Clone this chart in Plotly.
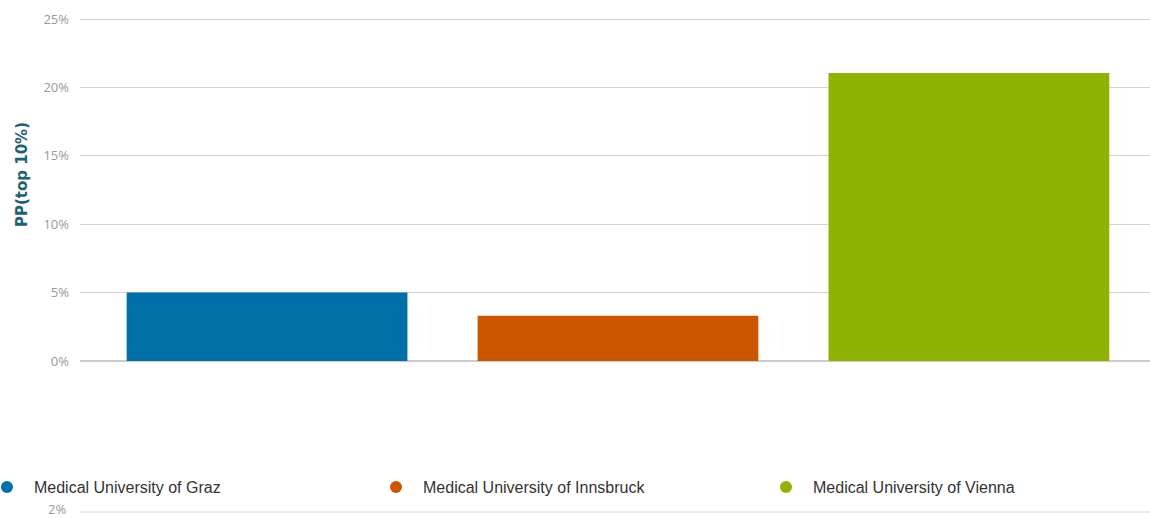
import plotly.graph_objects as go

categories = ["Medical University of Graz", "Medical University of Innsbruck", "Medical University of Vienna"]
values = [5.0, 3.3, 21.05]
colors = ["#0070a8", "#cc5500", "#8fb300"]
y_ticks = [0, 5, 10, 15, 20, 25]
y_tick_labels = [f"{v}%" for v in y_ticks]
legend_names = ["legend", "legend2", "legend3"]
legend_x = [-0.0935, 0.2701, 0.6346]

fig = go.Figure()
for i, (c, v, col) in enumerate(zip(categories, values, colors)):
    fig.add_trace(go.Bar(x=[i], y=[v], marker=dict(color=col, line=dict(width=0)),
                         width=0.8, showlegend=False, name=c))
for c, col, lg in zip(categories, colors, legend_names):
    fig.add_trace(go.Scatter(x=[None], y=[None], mode="markers", name=c, legend=lg,
                             marker=dict(symbol="circle", size=12, color=col)))

legend_style = dict(orientation="h", xanchor="left", y=-0.3652, yanchor="middle",
                    itemwidth=44, font=dict(size=16, color="#333333"),
                    bgcolor="rgba(0,0,0,0)")

fig.update_layout(
    width=1150, height=518,
    margin=dict(l=80, r=0, t=16, b=157, autoexpand=False),
    plot_bgcolor="white", paper_bgcolor="white",
    font=dict(family="Liberation Sans, Arial, sans-serif", color="#333333"),
    xaxis=dict(range=[-0.533, 2.516], showticklabels=False, showgrid=False,
               zeroline=False, showline=False, ticks="", automargin=False),
    yaxis=dict(range=[0, 25.22], tickvals=y_ticks, ticktext=y_tick_labels,
               tickfont=dict(family="Open Sans, sans-serif", size=13, color="#999999"),
               gridcolor="#d3d3d3", gridwidth=1, zeroline=True, zerolinecolor="#cccccc",
               showline=False, ticks="", ticklabelstandoff=10, automargin=False),
    legend=dict(x=legend_x[0], **legend_style),
    legend2=dict(x=legend_x[1], **legend_style),
    legend3=dict(x=legend_x[2], **legend_style),
    showlegend=True,
)

# y-axis title
fig.add_annotation(text="<b>PP(top 10%)</b>", xref="paper", yref="paper", x=-0.0542, y=0.539,
                   xanchor="center", yanchor="middle", textangle=-90, showarrow=False,
                   font=dict(family="DejaVu Sans, sans-serif", size=15, color="#1f6070"))

# partial second chart below
fig.add_shape(type="line", xref="paper", yref="paper", x0=0, x1=1, y0=-0.4377, y1=-0.4377,
              line=dict(color="#d3d3d3", width=1))
fig.add_annotation(text="2%", xref="paper", yref="paper", x=-0.0112, y=-0.429, xanchor="right",
                   yanchor="middle", showarrow=False,
                   font=dict(family="Open Sans, sans-serif", size=13, color="#999999"))

fig.write_html("out.html", config={"displayModeBar": False},
               post_script="document.body.style.margin='0';document.body.style.overflow='hidden';")
